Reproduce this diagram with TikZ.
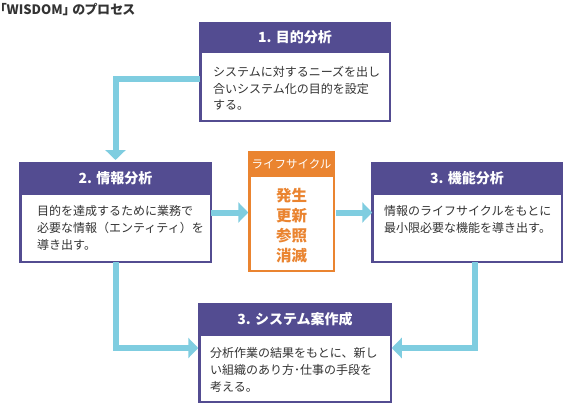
\documentclass[tikz,border=0pt]{standalone}
\usepackage{fontspec}
\setmainfont{Noto Sans CJK JP}
\newfontfamily\titlefont[RawFeature=+palt]{Noto Sans CJK JP}
\usetikzlibrary{arrows.meta}
\definecolor{purp}{HTML}{534C91}
\definecolor{sky}{HTML}{7FCDE0}
\definecolor{orng}{HTML}{EA8430}
\definecolor{txt}{HTML}{333333}
\begin{document}
\begin{tikzpicture}[x=1pt,y=-1pt,
  pbox/.style={draw=purp, line width=2.5pt, fill=white, inner sep=0pt, outer sep=0pt},
  obox/.style={draw=orng, line width=2.5pt, fill=white, inner sep=0pt, outer sep=0pt},
  phead/.style={fill=purp, text=white, inner sep=0pt, outer sep=0pt, anchor=north,
    font=\fontsize{14}{16}\selectfont\bfseries},
  ohead/.style={fill=orng, text=white, inner sep=0pt, outer sep=0pt, anchor=north,
    font=\fontsize{11.5}{14}\selectfont},
  bodytext/.style={anchor=west, align=left, inner sep=0pt, text=txt,
    font=\fontsize{12}{16.7}\selectfont},
  otext/.style={align=center, inner sep=0pt, text=orng,
    font=\fontsize{15.5}{20}\selectfont\bfseries},
  conn/.style={draw=sky, line width=6pt, line join=miter,
    -{Triangle[width=20pt,length=10pt]}}
]
\useasboundingbox (0,0) rectangle (565,404);

% title
\node[anchor=base west, inner sep=0pt, text height=11pt, text depth=2pt, text=txt,
  font=\titlefont\fontsize{13}{15}\selectfont\bfseries] (title) at (0,14.5) {「WISDOM」 のプロセス};

% boxes
\node[pbox, minimum width=189.5pt, minimum height=97.5pt] (b1) at (295,72) {};
\node[pbox, minimum width=190.5pt, minimum height=98.5pt] (b2) at (115.5,212.5) {};
\node[pbox, minimum width=189.5pt, minimum height=98.5pt] (b3) at (467,212.5) {};
\node[pbox, minimum width=191.5pt, minimum height=97.5pt] (b4) at (295,353) {};
\node[obox, minimum width=84.5pt, minimum height=118.5pt] (ob) at (291.5,211.5) {};

% headers
\node[phead, minimum width=192pt, minimum height=31pt] (h1) at ([yshift=1.25pt]b1.north) {1. 目的分析};
\node[phead, minimum width=193pt, minimum height=33pt] (h2) at ([yshift=1.25pt]b2.north) {2. 情報分析};
\node[phead, minimum width=192pt, minimum height=33pt] (h3) at ([yshift=1.25pt]b3.north) {3. 機能分析};
\node[phead, minimum width=194pt, minimum height=33pt] (h4) at ([yshift=1.25pt]b4.north) {3. システム案作成};
\node[ohead, minimum width=87pt, minimum height=26pt] (oh) at ([yshift=1.25pt]ob.north) {ライフサイクル};

% body texts
\node[bodytext] (t1) at (213,88.3) {システムに対するニーズを出し\\合いシステム化の目的を設定\\する。};
\node[bodytext] (t2) at (37,228) {目的を達成するために業務で\\必要な情報（エンティティ）を\\導き出す。};
\node[bodytext] (t3) at (384,219.5) {情報のライフサイクルをもとに\\最小限必要な機能を導き出す。};
\node[bodytext] (t4) at (210,370) {分析作業の結果をもとに、新し\\い組織のあり方･仕事の手段を\\考える。};
\node[otext] (to) at (291.5,225.5) {発生\\更新\\参照\\消滅};

% connectors
\draw[conn] ([yshift=-7pt]b1.west) -| ([yshift=2pt]h2.north);
\draw[conn] (b2.east) -- ([xshift=-1pt]b2.east -| ob.west);
\draw[conn] ([xshift=2pt]ob.east |- b3.west) -- (b3.west);
\draw[conn] (b2.south) |- ([yshift=5pt,xshift=-1pt]b4.west);
\draw[conn] ([xshift=8pt]b3.south) |- ([yshift=5pt,xshift=1pt]b4.east);
\end{tikzpicture}
\end{document}
